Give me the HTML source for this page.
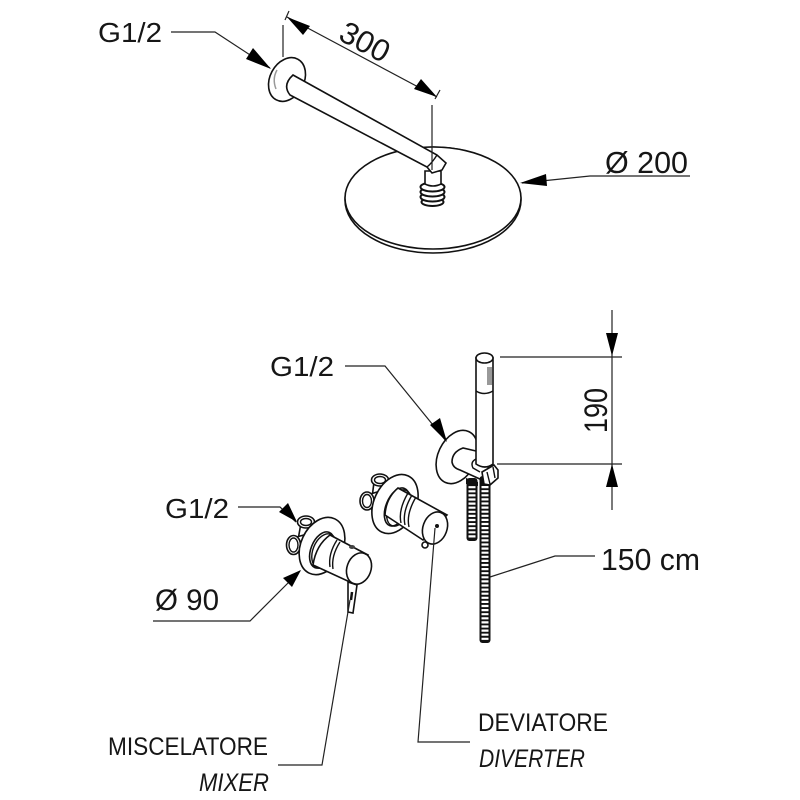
<!DOCTYPE html>
<html><head><meta charset="utf-8"><style>
html,body{margin:0;padding:0;background:#fff}
svg{display:block}
text{font-family:"Liberation Sans",sans-serif;fill:#161616}
.l{fill:none;stroke:#222;stroke-width:1.2}
.s{fill:#fff;stroke:#111;stroke-width:1.6}
.f{fill:none;stroke:#111;stroke-width:1.4}
</style></head><body>
<svg width="800" height="800" viewBox="0 0 800 800" xmlns="http://www.w3.org/2000/svg">
<!-- shower head -->
<ellipse class="s" cx="433" cy="200" rx="88" ry="53"/>
<ellipse class="s" cx="433" cy="198" rx="88" ry="51"/>
<g fill="#fff" stroke="#111" stroke-width="2"><ellipse cx="432.500" cy="202" rx="11" ry="4"/><ellipse cx="432.500" cy="197" rx="12" ry="4.500"/><ellipse cx="432.500" cy="192" rx="12" ry="4.500"/><ellipse cx="432.500" cy="187" rx="12" ry="4.500"/></g>
<path class="s" d="M425 171h16v13q-8 4-16 0z"/>
<ellipse class="s" cx="287" cy="79.500" rx="17" ry="23" transform="rotate(28 287 79.500)"/>
<path d="M277 70q-5 9-1 19" fill="none" stroke="#999" stroke-width="1.500"/>
<path class="s" d="M293 75L437 155L446 163L442 170L432 173L427 167L290 95Q282 85 293 75Z"/>
<path class="f" d="M437 155Q432 163 427 167"/>
<!-- top dimensions -->
<path class="l" d="M287 17L437 97M289 11L285 20M440 90L435 99M283 25V57M432 105V170"/>
<path d="M287 17L310 26L303 35Z M437 97L414 89L421 79Z"/>
<text transform="translate(337 39) rotate(28)" font-size="31" textLength="52" lengthAdjust="spacingAndGlyphs">300</text>
<text x="98" y="42" font-size="28" textLength="64" lengthAdjust="spacingAndGlyphs">G1/2</text>
<path class="l" d="M171 32H215L270 68"/>
<path d="M271 69L246 59L253 48Z"/>
<text x="605" y="173" font-size="31" textLength="83" lengthAdjust="spacingAndGlyphs">Ø 200</text>
<path class="l" d="M690 176H590L522 183"/>
<path d="M520 183L546 174L547 186Z"/>
<!-- hand shower -->
<ellipse class="s" cx="457" cy="457" rx="19" ry="28" transform="rotate(25 457 457)"/>
<path class="s" d="M476 451L463 448Q452 452 452 462Q453 468 460 470L482 480L490 470Z"/>
<rect x="466.500" y="478" width="11" height="63" rx="3" fill="#111"/>
<path d="M472 482V539" stroke="#fff" stroke-width="7" stroke-dasharray="2.200 1.900"/>
<rect x="479.500" y="476" width="11" height="167" rx="3" fill="#111"/>
<path d="M485 486V641" stroke="#fff" stroke-width="7" stroke-dasharray="2.200 1.900"/>
<path d="M466 478L478 482L478 486L466 484Z" fill="#111"/>
<path class="s" d="M476 358V464Q485 470 493 464V358Z"/>
<ellipse class="s" cx="484.500" cy="358" rx="8.500" ry="5"/>
<path class="f" d="M476 391Q484 396 493 391"/>
<rect x="487" y="367" width="5" height="18" fill="#999"/>
<path class="s" d="M482 472L494 465L498 470L498 478L490 485L484 484Z"/>
<path class="f" d="M487 472L490 484M493 467L495 478"/>
<path class="f" d="M476 459Q470 462 473 468L480 472"/>
<!-- hand shower dimensions -->
<path class="l" d="M500 357H622M497 464H622M612 310V510"/>
<path d="M612 356L606 333H618Z M612 464L606 487H618Z"/>
<text transform="translate(607 433) rotate(-90)" font-size="32" textLength="45" lengthAdjust="spacingAndGlyphs">190</text>
<text x="270" y="376" font-size="28" textLength="64" lengthAdjust="spacingAndGlyphs">G1/2</text>
<path class="l" d="M345 366H385L446 441"/>
<path d="M447 442L430 425L440 418Z"/>
<text x="601" y="570" font-size="31" textLength="99" lengthAdjust="spacingAndGlyphs">150 cm</text>
<path class="l" d="M490 577L555 556H595"/>
<!-- diverter -->
<path class="s" d="M374 482L392 488L388 505L372 498Z"/>
<ellipse class="s" cx="380" cy="480" rx="8.500" ry="6"/>
<ellipse class="f" cx="380" cy="480" rx="5.500" ry="3.500"/>
<path class="s" d="M367 495L384 490L388 508L372 510Z"/>
<ellipse class="s" cx="367" cy="501" rx="7" ry="9"/>
<ellipse class="f" cx="367" cy="501" rx="4.500" ry="6.500"/>
<ellipse class="s" cx="395" cy="504" rx="21" ry="31" transform="rotate(25 395 504)"/>
<circle class="s" cx="425" cy="545" r="3"/>
<ellipse class="s" cx="397" cy="507" rx="11" ry="20" transform="rotate(22 397 507)"/>
<ellipse class="f" cx="399" cy="508" rx="11" ry="19" transform="rotate(22 399 508)"/>
<path class="s" d="M398 488L447 515L423 540L385 515Q386 498 398 488Z"/>
<path class="f" d="M408 493Q398 510 401 523M412 495Q402 512 405 525M416 497Q406 514 409 527"/>
<ellipse class="s" cx="435" cy="528" rx="12" ry="16.500" transform="rotate(20 435 528)"/>
<circle cx="437" cy="526" r="2" fill="#111"/>
<path class="l" d="M435 528L418 742H470"/>
<text x="478" y="731" font-size="25" textLength="130" lengthAdjust="spacingAndGlyphs">DEVIATORE</text>
<text x="479" y="767" font-size="25" font-style="italic" textLength="106" lengthAdjust="spacingAndGlyphs">DIVERTER</text>
<!-- mixer -->
<path class="s" d="M301 523L318 530L314 547L298 540Z"/>
<ellipse class="s" cx="306" cy="522" rx="8.500" ry="6"/>
<ellipse class="f" cx="306" cy="522" rx="5.500" ry="3.500"/>
<path class="s" d="M293 538L311 533L315 550L299 553Z"/>
<ellipse class="s" cx="293.500" cy="545" rx="7" ry="9.500"/>
<ellipse class="f" cx="293.500" cy="545" rx="4.500" ry="7"/>
<ellipse class="s" cx="322" cy="546" rx="21" ry="30" transform="rotate(25 322 546)"/>
<path class="s" d="M348 582L357 585L353 613L348 612Z"/>
<path d="M352 592L351 600" stroke="#111" stroke-width="2.500"/>
<ellipse class="s" cx="322" cy="550" rx="11" ry="19" transform="rotate(22 322 550)"/>
<ellipse class="f" cx="324" cy="551" rx="11" ry="18" transform="rotate(22 324 551)"/>
<path class="s" d="M330 535L368 555L352 583L313 565Q316 545 330 535Z"/>
<path class="f" d="M337 540Q328 554 330 567M340 542Q331 556 333 569"/>
<ellipse cx="352" cy="547" rx="3" ry="2" fill="#444"/>
<ellipse class="s" cx="359" cy="568.500" rx="12" ry="16" transform="rotate(20 359 568.500)"/>
<path class="l" d="M350 600L322 765H278"/>
<text x="108" y="755" font-size="25" textLength="160" lengthAdjust="spacingAndGlyphs">MISCELATORE</text>
<text x="199" y="791" font-size="25" font-style="italic" textLength="70" lengthAdjust="spacingAndGlyphs">MIXER</text>
<!-- mixer dimensions -->
<text x="165" y="518" font-size="28" textLength="64" lengthAdjust="spacingAndGlyphs">G1/2</text>
<path class="l" d="M238 507H280L296 522"/>
<path d="M297 522L279 512L288 503Z"/>
<text x="155" y="610" font-size="30" textLength="64" lengthAdjust="spacingAndGlyphs">Ø 90</text>
<path class="l" d="M153 621H250L300 571"/>
<path d="M301 570L292 587L283 578Z"/>
</svg>
</body></html>
